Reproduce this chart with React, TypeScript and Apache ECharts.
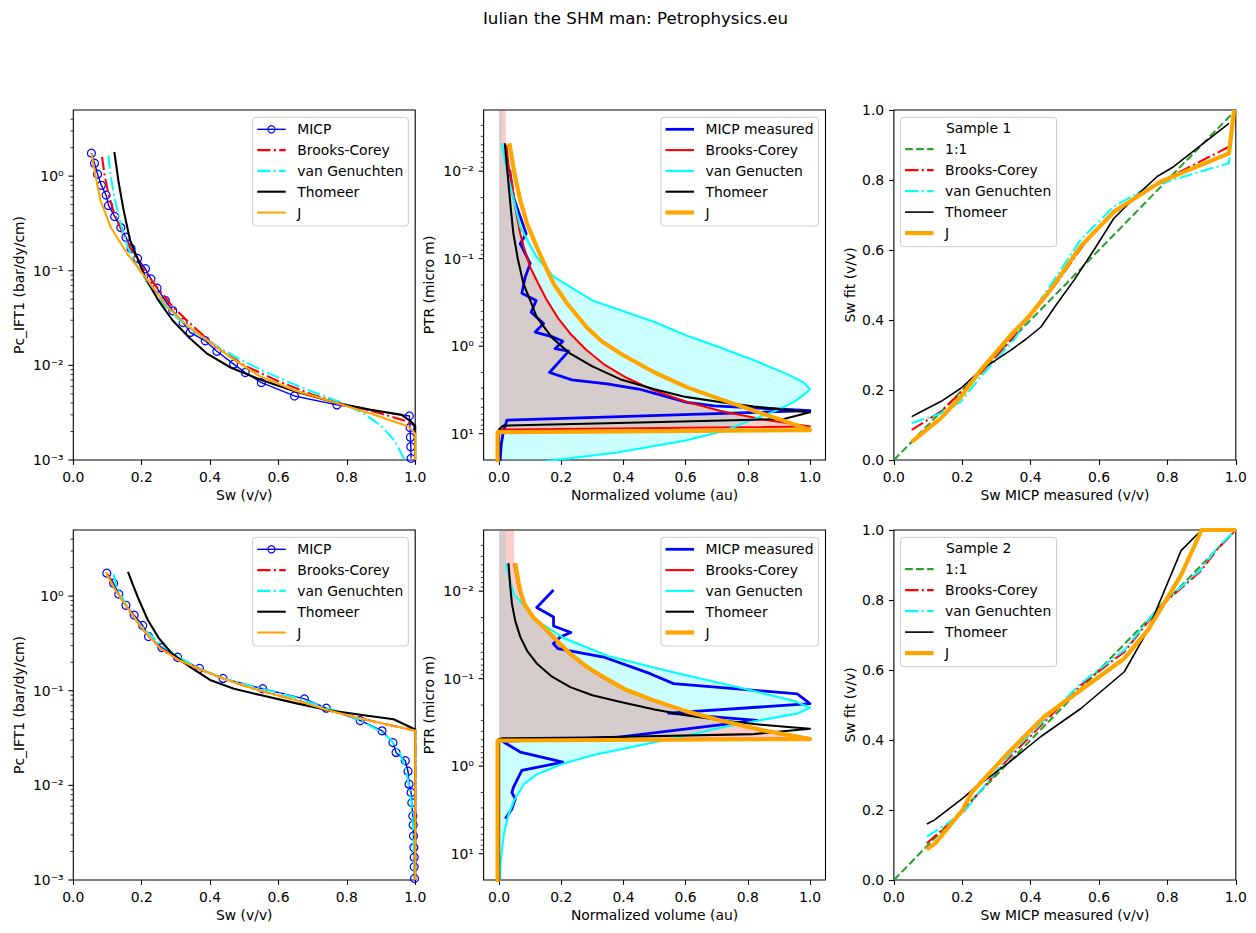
import React, { useEffect, useRef } from 'react';
import * as echarts from 'echarts';

const FONT = '"DejaVu Sans", sans-serif';
const FS = 13.9;
const TITLE = 'Iulian the SHM man: Petrophysics.eu';

// ---------- Data ----------
// Shared MICP pressure schedule (bar/dy/cm)
const pcSteps = [1.75, 1.37, 1.05, 0.80, 0.63, 0.49, 0.375, 0.286, 0.226, 0.172, 0.135, 0.105, 0.082, 0.0655, 0.0485, 0.0377, 0.0283, 0.0223, 0.0182, 0.0141, 0.0103, 0.0084, 0.00657, 0.00475, 0.00382, 0.00292, 0.0022, 0.00174, 0.00138, 0.00104];
const sample1Sw = [0.053, 0.062, 0.071, 0.082, 0.096, 0.103, 0.121, 0.139, 0.154, 0.169, 0.188, 0.211, 0.227, 0.245, 0.269, 0.291, 0.321, 0.342, 0.386, 0.420, 0.469, 0.503, 0.550, 0.647, 0.771, 0.983, 0.985, 0.986, 0.987, 0.988];
const sample2Sw = [0.098, 0.118, 0.133, 0.154, 0.178, 0.203, 0.220, 0.259, 0.305, 0.369, 0.438, 0.554, 0.676, 0.740, 0.839, 0.903, 0.935, 0.944, 0.971, 0.979, 0.982, 0.988, 0.990, 0.993, 0.994, 0.995, 0.996, 0.997, 0.997, 0.998];

// Panel 1 model curves [Sw, Pc]
const bcPc1 = [[0.084, 1.6], [0.092, 1.0], [0.105, 0.6], [0.12, 0.4], [0.145, 0.25], [0.17, 0.165], [0.2, 0.11], [0.24, 0.07], [0.29, 0.042], [0.35, 0.026], [0.42, 0.0155], [0.5, 0.0100], [0.6, 0.0068], [0.7, 0.0049], [0.8, 0.0038], [0.9, 0.0031], [0.97, 0.0026], [1.0, 0.0023]];
const vgPc1 = [[0.103, 1.66], [0.108, 1.1], [0.115, 0.75], [0.125, 0.5], [0.14, 0.30], [0.16, 0.175], [0.185, 0.115], [0.22, 0.072], [0.26, 0.045], [0.32, 0.028], [0.39, 0.0185], [0.47, 0.0125], [0.55, 0.0089], [0.65, 0.0062], [0.77, 0.0042], [0.85, 0.0031], [0.9, 0.0023], [0.94, 0.0016], [0.966, 0.00105], [0.975, 0.0008]];
const thPc1 = [[0.12, 1.8], [0.127, 1.2], [0.133, 0.84], [0.147, 0.44], [0.166, 0.21], [0.186, 0.14], [0.21, 0.085], [0.25, 0.048], [0.29, 0.030], [0.34, 0.0195], [0.39, 0.0134], [0.46, 0.0095], [0.55, 0.0070], [0.65, 0.0053], [0.77, 0.0040], [0.87, 0.0034], [0.96, 0.0030], [0.985, 0.0026], [1.0, 0.0023], [1.0, 0.001]];
const jPc1 = [[0.053, 1.74], [0.06, 1.25], [0.079, 0.56], [0.109, 0.29], [0.157, 0.153], [0.216, 0.08], [0.275, 0.0417], [0.33, 0.027], [0.391, 0.0185], [0.47, 0.0115], [0.548, 0.0076], [0.65, 0.0054], [0.771, 0.0040], [0.88, 0.0030], [0.98, 0.00226], [1.0, 0.0019], [1.0, 0.001]];

// Panel 4 model curves [Sw, Pc]
const bcPc2 = [[0.098, 1.75], [0.12, 1.22], [0.16, 0.73], [0.2, 0.46], [0.255, 0.28], [0.31, 0.21], [0.37, 0.168], [0.45, 0.13], [0.547, 0.10], [0.65, 0.08], [0.742, 0.0625], [0.85, 0.050], [0.93, 0.043], [1.0, 0.038], [1.0, 0.001]];
const vgPc2 = [[0.118, 1.7], [0.125, 1.3], [0.14, 1.0], [0.16, 0.75], [0.185, 0.55], [0.215, 0.42], [0.26, 0.3], [0.31, 0.225], [0.37, 0.17], [0.44, 0.135], [0.55, 0.105], [0.65, 0.085], [0.74, 0.066], [0.8, 0.056], [0.84, 0.048], [0.9, 0.037], [0.93, 0.03], [0.955, 0.022], [0.972, 0.015], [0.982, 0.01], [0.99, 0.006], [0.995, 0.003], [0.998, 0.001]];
const thPc2 = [[0.16, 1.8], [0.175, 1.3], [0.19, 0.95], [0.218, 0.56], [0.25, 0.36], [0.288, 0.248], [0.34, 0.18], [0.40, 0.13], [0.47, 0.105], [0.547, 0.090], [0.65, 0.074], [0.742, 0.0625], [0.85, 0.055], [0.937, 0.050], [1.0, 0.039], [1.0, 0.001]];
const jPc2 = [[0.095, 1.8], [0.12, 1.2], [0.16, 0.74], [0.2, 0.46], [0.255, 0.28], [0.31, 0.21], [0.37, 0.169], [0.45, 0.13], [0.547, 0.10], [0.65, 0.08], [0.742, 0.0625], [0.85, 0.050], [0.93, 0.043], [1.0, 0.038], [1.0, 0.001]];

// Panel 2 pore throat distributions [volume, PTR]
const micpPsd1 = [[0.034, 0.0097], [0.046, 0.0197], [0.057, 0.0256], [0.087, 0.0518], [0.068, 0.0673], [0.10, 0.114], [0.084, 0.162], [0.073, 0.248], [0.119, 0.30], [0.103, 0.41], [0.143, 0.55], [0.116, 0.69], [0.175, 0.79], [0.205, 0.88], [0.18, 1.07], [0.224, 1.14], [0.162, 2.0], [0.234, 2.43], [0.347, 2.7], [0.449, 3.09], [0.605, 4.4], [0.691, 4.8], [1.0, 5.47], [0.025, 7.0], [0.013, 9.7], [0.007, 13.2], [0.003, 20.4]];
const bcPsd1 = [[0.023, 0.005], [0.03, 0.0085], [0.041, 0.0138], [0.055, 0.03], [0.068, 0.052], [0.08, 0.075], [0.10, 0.125], [0.125, 0.19], [0.154, 0.30], [0.19, 0.48], [0.229, 0.72], [0.28, 1.1], [0.336, 1.6], [0.41, 2.3], [0.498, 3.2], [0.6, 4.3], [0.713, 5.5], [0.85, 6.9], [1.0, 8.3], [0.0, 9.0]];
const vgPsd1 = [[0.008, 0.0048], [0.03, 0.012], [0.068, 0.0435], [0.12, 0.095], [0.175, 0.16], [0.3, 0.30], [0.4, 0.40], [0.5, 0.53], [0.6, 0.75], [0.7, 1.0], [0.82, 1.45], [0.928, 2.1], [0.98, 2.6], [1.0, 3.1], [0.98, 3.6], [0.95, 4.3], [0.9, 5.3], [0.83, 6.6], [0.72, 9.4], [0.6, 12], [0.38, 16.4], [0.163, 20.4], [0.1, 23]];
const thPsd1 = [[0.018, 0.0048], [0.024, 0.008], [0.030, 0.0138], [0.038, 0.028], [0.046, 0.052], [0.06, 0.1], [0.078, 0.193], [0.1, 0.3], [0.121, 0.467], [0.17, 0.8], [0.229, 1.22], [0.3, 1.7], [0.391, 2.4], [0.5, 3.1], [0.6, 3.8], [0.72, 4.4], [0.82, 4.9], [0.92, 5.35], [1.0, 5.7], [0.916, 6.8], [0.486, 7.4], [0.013, 8.1], [0.0, 8.9], [0.0, 25]];
const jPsd1 = [[0.033, 0.0048], [0.05, 0.011], [0.068, 0.0215], [0.09, 0.04], [0.121, 0.0736], [0.15, 0.125], [0.175, 0.193], [0.22, 0.33], [0.282, 0.61], [0.33, 0.88], [0.391, 1.22], [0.5, 2.0], [0.605, 2.96], [0.7, 3.9], [0.82, 5.47], [0.91, 7.0], [1.0, 9.1], [-0.005, 9.6], [-0.005, 25]];
const fillTop1 = { vg: 0.013, bc: 0.02 };

// Panel 5 pore throat distributions [volume, PTR]
const micpPsd2 = [[0.175, 0.0097], [0.121, 0.0154], [0.175, 0.0197], [0.175, 0.025], [0.231, 0.0297], [0.197, 0.0333], [0.174, 0.0398], [0.189, 0.0453], [0.336, 0.0566], [0.486, 0.0877], [0.561, 0.114], [0.959, 0.149], [1.0, 0.193], [0.545, 0.248], [0.83, 0.30], [0.378, 0.47], [0.01, 0.52], [0.068, 0.69], [0.205, 0.90], [0.073, 1.12], [0.046, 1.75], [0.041, 2.0], [0.052, 2.37], [0.041, 3.08], [0.02, 4.0]];
const bcPsd2 = [[0.048, 0.0048], [0.062, 0.009], [0.078, 0.0138], [0.108, 0.02], [0.15, 0.028], [0.185, 0.038], [0.225, 0.052], [0.275, 0.072], [0.33, 0.096], [0.405, 0.135], [0.49, 0.177], [0.595, 0.235], [0.71, 0.30], [0.845, 0.39], [1.0, 0.48], [0.0, 0.50]];
const vgPsd2 = [[0.022, 0.0048], [0.046, 0.0106], [0.121, 0.0215], [0.206, 0.034], [0.35, 0.055], [0.55, 0.083], [0.81, 0.136], [0.95, 0.18], [1.0, 0.215], [0.96, 0.25], [0.86, 0.29], [0.72, 0.36], [0.6, 0.45], [0.45, 0.58], [0.3, 0.75], [0.2, 0.95], [0.12, 1.25], [0.08, 1.6], [0.05, 2.4], [0.03, 3.6], [0.015, 6], [0.005, 12], [0.002, 20], [0.001, 25]];
const thPsd2 = [[0.030, 0.0048], [0.036, 0.009], [0.041, 0.0138], [0.052, 0.022], [0.068, 0.0333], [0.09, 0.048], [0.121, 0.067], [0.17, 0.095], [0.229, 0.125], [0.3, 0.155], [0.391, 0.185], [0.5, 0.225], [0.605, 0.263], [0.72, 0.30], [0.82, 0.33], [0.92, 0.355], [1.0, 0.373], [0.82, 0.43], [0.282, 0.47], [0.013, 0.48], [0.0, 0.49], [0.0, 25]];
const jPsd2 = [[0.052, 0.0048], [0.065, 0.009], [0.08, 0.0138], [0.11, 0.02], [0.154, 0.028], [0.19, 0.038], [0.229, 0.052], [0.28, 0.072], [0.336, 0.096], [0.41, 0.135], [0.498, 0.177], [0.6, 0.235], [0.713, 0.30], [0.85, 0.39], [1.0, 0.49], [-0.005, 0.51], [-0.005, 25]];
const fillTop2 = { vg: 0.022, bc: 0.048 };

// Panel 3 / 6 fits [Sw MICP, Sw fit]
const oneToOne = [[0, 0], [1, 1]];
const bcFit1 = [[0.052, 0.086], [0.137, 0.138], [0.254, 0.248], [0.351, 0.352], [0.468, 0.495], [0.565, 0.629], [0.643, 0.705], [0.78, 0.795], [0.98, 0.895], [0.995, 1.0]];
const vgFit1 = [[0.052, 0.105], [0.137, 0.133], [0.196, 0.167], [0.254, 0.238], [0.351, 0.343], [0.468, 0.514], [0.546, 0.629], [0.643, 0.724], [0.72, 0.767], [0.78, 0.79], [0.98, 0.848], [0.995, 1.0]];
const thFit1 = [[0.052, 0.124], [0.079, 0.138], [0.137, 0.167], [0.196, 0.205], [0.254, 0.257], [0.342, 0.314], [0.386, 0.345], [0.43, 0.38], [0.478, 0.448], [0.527, 0.514], [0.585, 0.60], [0.643, 0.69], [0.702, 0.748], [0.77, 0.81], [0.818, 0.838], [0.98, 0.962]];
const jFit1 = [[0.052, 0.052], [0.137, 0.119], [0.196, 0.181], [0.254, 0.257], [0.342, 0.357], [0.39, 0.405], [0.458, 0.486], [0.546, 0.61], [0.643, 0.709], [0.78, 0.795], [0.98, 0.876], [0.995, 1.0]];
const bcFit2 = [[0.0965, 0.105], [0.201, 0.195], [0.333, 0.345], [0.547, 0.557], [0.674, 0.652], [0.78, 0.783], [0.897, 0.882], [0.946, 0.945], [1.0, 1.0]];
const vgFit2 = [[0.0965, 0.124], [0.201, 0.19], [0.333, 0.352], [0.547, 0.562], [0.674, 0.657], [0.78, 0.786], [0.897, 0.886], [0.946, 0.95], [1.0, 1.0]];
const thFit2 = [[0.0965, 0.16], [0.118, 0.171], [0.201, 0.233], [0.235, 0.262], [0.333, 0.333], [0.43, 0.41], [0.547, 0.49], [0.674, 0.595], [0.743, 0.714], [0.84, 0.941], [0.9, 1.0]];
const jFit2 = [[0.0965, 0.0876], [0.123, 0.107], [0.201, 0.20], [0.226, 0.248], [0.333, 0.362], [0.44, 0.467], [0.547, 0.543], [0.674, 0.633], [0.743, 0.714], [0.84, 0.871], [0.9, 1.0], [1.0, 1.0]];

// Axis texts / ticks
const xNames = ['Sw (v/v)', 'Normalized volume (au)', 'Sw MICP measured (v/v)'];
const yNames = ['Pc_IFT1 (bar/dy/cm)', 'PTR (micro m)', 'Sw fit (v/v)'];
const linTicks = [0, 0.2, 0.4, 0.6, 0.8, 1.0];
const logDecades = [-3, -2, -1, 0, 1];
const logMinorMult = [2, 3, 4, 5, 6, 7, 8, 9];
const sampleTitles = ['Sample 1', 'Sample 2'];

// ---------- Styles ----------
const BLUE = '#0000ff', RED = '#ff0000', CYAN = '#00ffff', BLACK = '#000000', ORANGE = '#ffa500', GREEN = '#2ca02c';
const DASHDOT = [13.3, 3.33, 2.08, 3.33];
const DASHED = [7.7, 3.33];
const LW = 2.08;

const G_LEFT = 73.3, G_STEP = 410.3, G_W = 341.9, G_TOP = 110, G_VSTEP = 420, G_H = 350;

const SUP: Record<string, string> = { '-': '⁻', '0': '⁰', '1': '¹', '2': '²', '3': '³', '4': '⁴', '5': '⁵', '6': '⁶', '7': '⁷', '8': '⁸', '9': '⁹' };
function logLabel(v: number) {
  const e = Math.log10(v);
  const r = Math.round(e);
  if (Math.abs(e - r) > 1e-6) return '';
  return '10' + String(r).split('').map((c) => SUP[c] || c).join('');
}
function linLabel(v: number) {
  const k = v / 0.2;
  if (Math.abs(k - Math.round(k)) > 1e-6) return '';
  return v.toFixed(1);
}

function lineSeries(gi: number, data: number[][], color: string, width: number, dash: any = 'solid', z = 3, extra: any = {}) {
  return {
    type: 'line', xAxisIndex: gi, yAxisIndex: gi, data, symbol: 'none', showSymbol: false, clip: true, z, silent: true,
    lineStyle: { color, width, type: dash, cap: 'butt', join: 'round' }, itemStyle: { color },
    emphasis: { disabled: true }, ...extra,
  };
}

function fillSeries(gi: number, pts: number[][], color: string) {
  return {
    type: 'custom', xAxisIndex: gi, yAxisIndex: gi, data: [[0.5, 1]], clip: true, silent: true, z: 1,
    renderItem: (params: any, api: any) => ({
      type: 'polygon', shape: { points: pts.map((p) => api.coord(p)) }, style: { fill: color },
    }),
  };
}

function logTickSeries(gi: number, xmin: number, ymin: number, ymax: number) {
  const data: number[][] = [];
  for (const d of logDecades) {
    const base = Math.pow(10, d);
    if (base >= ymin * 0.9999 && base <= ymax * 1.0001) data.push([xmin, base, 4.86]);
    for (const m of logMinorMult) {
      const v = m * base;
      if (v > ymin * 1.0001 && v < ymax * 0.9999) data.push([xmin, v, 2.78]);
    }
  }
  return {
    type: 'custom', xAxisIndex: gi, yAxisIndex: gi, data, clip: false, silent: true, z: 10,
    renderItem: (params: any, api: any) => {
      const p = api.coord([api.value(0), api.value(1)]);
      const len = api.value(2);
      const x0 = params.coordSys.x;
      return { type: 'line', shape: { x1: x0 - len, y1: p[1], x2: x0, y2: p[1] }, style: { stroke: '#000', lineWidth: len > 3 ? 1.1 : 0.8 } };
    },
  };
}

function zipPts(xs: number[], ys: number[]) {
  return xs.map((x, i) => [x, ys[i]]);
}

function fillPoly(curve: number[][], topX: number, topY: number) {
  const last = curve[curve.length - 1];
  return [[0, topY], [topX, topY], ...curve, [0, last[1]]];
}

function buildOption() {
  const grids: any[] = [];
  const xAxes: any[] = [];
  const yAxes: any[] = [];
  const nameStyle = { color: '#000', fontFamily: FONT, fontSize: FS };
  const labelStyle = { color: '#000', fontFamily: FONT, fontSize: FS, margin: 9.7 };
  const tickStyle = { show: true, length: 4.86, lineStyle: { color: '#000', width: 1.1 } };
  for (let r = 0; r < 2; r++) {
    for (let c = 0; c < 3; c++) {
      const gi = r * 3 + c;
      grids.push({ left: G_LEFT + c * G_STEP, top: G_TOP + r * G_VSTEP, width: G_W, height: G_H, show: true, borderColor: '#000', borderWidth: 1.1, backgroundColor: 'rgba(0,0,0,0)', containLabel: false });
      const xa: any = {
        type: 'value', gridIndex: gi, position: 'bottom', axisLine: { show: false }, splitLine: { show: false },
        axisTick: { ...tickStyle }, axisLabel: { ...labelStyle, formatter: linLabel },
        name: xNames[c], nameLocation: 'middle', nameGap: 28, nameTextStyle: nameStyle,
      };
      if (c === 1) {
        xa.min = -0.05; xa.max = 1.05;
        xa.axisTick.customValues = linTicks;
        xa.axisLabel.customValues = linTicks;
      } else {
        xa.min = 0; xa.max = 1; xa.interval = 0.2;
      }
      xAxes.push(xa);
      const ya: any = {
        gridIndex: gi, position: 'left', axisLine: { show: false }, splitLine: { show: false },
        name: yNames[c], nameLocation: 'middle', nameTextStyle: nameStyle,
      };
      if (c === 0) {
        Object.assign(ya, { type: 'log', logBase: 10, min: 0.001, max: 5, axisTick: { show: false }, axisLabel: { ...labelStyle, formatter: logLabel }, nameGap: 47.5 });
      } else if (c === 1) {
        Object.assign(ya, { type: 'log', logBase: 10, min: 0.002, max: 20, inverse: true, axisTick: { show: false }, axisLabel: { ...labelStyle, formatter: logLabel }, nameGap: 47.5 });
      } else {
        Object.assign(ya, { type: 'value', min: 0, max: 1, interval: 0.2, axisTick: { ...tickStyle }, axisLabel: { ...labelStyle, formatter: linLabel }, nameGap: 37.3 });
      }
      yAxes.push(ya);
    }
  }

  const micpMarker = {
    symbol: 'circle', showSymbol: true, symbolSize: 8,
    itemStyle: { color: 'rgba(0,0,0,0)', borderColor: BLUE, borderWidth: 1.2 },
  };

  const series: any[] = [];
  const pcSets = [
    { sw: sample1Sw, bc: bcPc1, vg: vgPc1, th: thPc1, j: jPc1 },
    { sw: sample2Sw, bc: bcPc2, vg: vgPc2, th: thPc2, j: jPc2 },
  ];
  const psdSets = [
    { micp: micpPsd1, bc: bcPsd1, vg: vgPsd1, th: thPsd1, j: jPsd1, top: fillTop1 },
    { micp: micpPsd2, bc: bcPsd2, vg: vgPsd2, th: thPsd2, j: jPsd2, top: fillTop2 },
  ];
  const fitSets = [
    { bc: bcFit1, vg: vgFit1, th: thFit1, j: jFit1 },
    { bc: bcFit2, vg: vgFit2, th: thFit2, j: jFit2 },
  ];
  for (let r = 0; r < 2; r++) {
    const g0 = r * 3, g1 = r * 3 + 1, g2 = r * 3 + 2;
    const p = pcSets[r];
    series.push(lineSeries(g0, zipPts(p.sw, pcSteps), BLUE, 1.39, 'solid', 3, micpMarker));
    series.push(lineSeries(g0, p.bc, RED, LW, DASHDOT, 4));
    series.push(lineSeries(g0, p.vg, CYAN, LW, DASHDOT, 5));
    series.push(lineSeries(g0, p.th, BLACK, LW, 'solid', 6));
    series.push(lineSeries(g0, p.j, ORANGE, LW, 'solid', 7));
    series.push(logTickSeries(g0, 0, 0.001, 5));

    const d = psdSets[r];
    series.push(fillSeries(g1, fillPoly(d.vg, d.top.vg, 0.0015), 'rgba(0,255,255,0.2)'));
    series.push(fillSeries(g1, fillPoly(d.bc, d.top.bc, 0.0015), 'rgba(255,0,0,0.2)'));
    series.push(lineSeries(g1, d.micp, BLUE, 2.78, 'solid', 3));
    series.push(lineSeries(g1, d.bc, RED, LW, 'solid', 4));
    series.push(lineSeries(g1, d.vg, CYAN, LW, 'solid', 5));
    series.push(lineSeries(g1, d.th, BLACK, LW, 'solid', 6));
    series.push(lineSeries(g1, d.j, ORANGE, 4.17, 'solid', 7));
    series.push(logTickSeries(g1, -0.05, 0.002, 20));

    const f = fitSets[r];
    series.push(lineSeries(g2, oneToOne, GREEN, LW, DASHED, 3));
    series.push(lineSeries(g2, f.bc, RED, LW, DASHDOT, 4));
    series.push(lineSeries(g2, f.vg, CYAN, LW, DASHDOT, 5));
    series.push(lineSeries(g2, f.th, BLACK, 1.6, 'solid', 6));
    series.push(lineSeries(g2, f.j, ORANGE, 4.17, 'solid', 7));
  }

  // ---------- Legends (matplotlib-like boxes) ----------
  const graphic: any[] = [];
  const txt = (x: number, y: number, text: string, size = FS, align = 'left') => ({
    type: 'text', x, y, z: 102, silent: true,
    style: { text, fill: '#000', font: `${size}px ${FONT}`, align, textAlign: align, verticalAlign: 'middle', textVerticalAlign: 'middle' },
  });
  graphic.push(txt(635.5, 18, TITLE, 16.67, 'center'));

  const legendItems = [
    [
      { label: 'MICP', color: BLUE, width: 1.39, dash: null, marker: true },
      { label: 'Brooks-Corey', color: RED, width: LW, dash: DASHDOT },
      { label: 'van Genuchten', color: CYAN, width: LW, dash: DASHDOT },
      { label: 'Thomeer', color: BLACK, width: LW, dash: null },
      { label: 'J', color: ORANGE, width: LW, dash: null },
    ],
    [
      { label: 'MICP measured', color: BLUE, width: 2.78, dash: null },
      { label: 'Brooks-Corey', color: RED, width: LW, dash: null },
      { label: 'van Genucten', color: CYAN, width: LW, dash: null },
      { label: 'Thomeer', color: BLACK, width: LW, dash: null },
      { label: 'J', color: ORANGE, width: 4.17, dash: null },
    ],
    [
      { label: '1:1', color: GREEN, width: LW, dash: DASHED },
      { label: 'Brooks-Corey', color: RED, width: LW, dash: DASHDOT },
      { label: 'van Genuchten', color: CYAN, width: LW, dash: DASHDOT },
      { label: 'Thomeer', color: BLACK, width: 1.6, dash: null },
      { label: 'J', color: ORANGE, width: 4.17, dash: null },
    ],
  ];
  for (let r = 0; r < 2; r++) {
    for (let c = 0; c < 3; c++) {
      const gl = G_LEFT + c * G_STEP;
      const gt = G_TOP + r * G_VSTEP;
      let bx: number, bw: number, bh: number, rowY0: number, rowStep: number;
      if (c === 0) { bw = 155.6; bx = gl + G_W - 6.9 - bw; bh = 108.7; rowY0 = 12; rowStep = 20.8; }
      else if (c === 1) { bw = 157.6; bx = gl + G_W - 6.9 - bw; bh = 108.7; rowY0 = 12; rowStep = 20.8; }
      else { bw = 156; bx = gl + 6.7; bh = 129.4; rowY0 = 31.8; rowStep = 21; }
      const by = gt + 7.3;
      graphic.push({ type: 'rect', z: 100, silent: true, shape: { x: bx, y: by, width: bw, height: bh, r: 3 }, style: { fill: 'rgba(255,255,255,0.8)', stroke: '#cccccc', lineWidth: 1 } });
      if (c === 2) graphic.push(txt(bx + bw / 2, by + 11, sampleTitles[r], FS, 'center'));
      legendItems[c].forEach((it: any, i: number) => {
        const y = by + rowY0 + i * rowStep;
        const x1 = bx + 4.5, x2 = bx + 33;
        const st: any = { stroke: it.color, lineWidth: it.width };
        if (it.dash) st.lineDash = it.dash;
        graphic.push({ type: 'line', z: 101, silent: true, shape: { x1, y1: y, x2, y2: y }, style: st });
        if (it.marker) graphic.push({ type: 'circle', z: 101, silent: true, shape: { cx: (x1 + x2) / 2, cy: y, r: 3.6 }, style: { fill: 'none', stroke: it.color, lineWidth: 1.2 } });
        graphic.push(txt(bx + 44.5, y, it.label));
      });
    }
  }

  return {
    animation: false,
    backgroundColor: '#ffffff',
    textStyle: { fontFamily: FONT },
    grid: grids,
    xAxis: xAxes,
    yAxis: yAxes,
    series,
    graphic,
  };
}

export default function App() {
  const ref = useRef<HTMLDivElement>(null);
  useEffect(() => {
    if (!ref.current) return;
    const chart = echarts.init(ref.current, null, { renderer: 'svg' });
    chart.setOption(buildOption() as any);
    return () => chart.dispose();
  }, []);
  return <div ref={ref} style={{ position: 'absolute', left: 0, top: 0, width: 1256, height: 933, background: '#fff' }} />;
}
